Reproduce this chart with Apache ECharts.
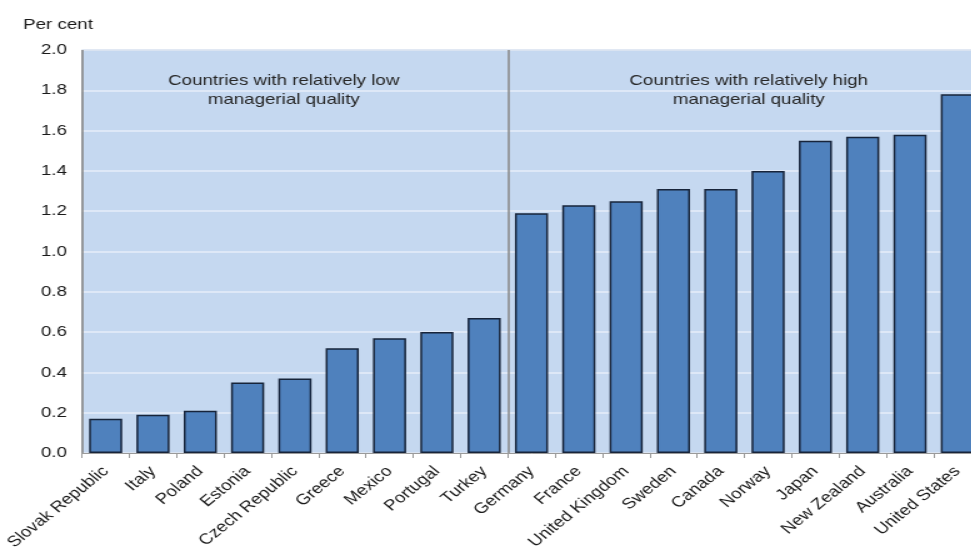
<!DOCTYPE html>
<html>
<head>
<meta charset="utf-8">
<script src="https://cdn.jsdelivr.net/npm/echarts@6/dist/echarts.min.js"></script>
<style>
  html, body { margin: 0; padding: 0; background: #ffffff; overflow: hidden; width: 971px; height: 554px; }
  /* the chart is drawn on a narrower canvas and widened horizontally */
  #chart { width: 800px; height: 554px; transform: scaleX(1.25); transform-origin: 0 0; }
</style>
</head>
<body>
<div id="chart"></div>
<script>
// Countries, ordered by value
const countries = [
  'Slovak Republic', 'Italy', 'Poland', 'Estonia', 'Czech Republic', 'Greece',
  'Mexico', 'Portugal', 'Turkey', 'Germany', 'France', 'United Kingdom',
  'Sweden', 'Canada', 'Norway', 'Japan', 'New Zealand', 'Australia', 'United States'
];
// Per cent
const values = [
  0.17, 0.19, 0.21, 0.35, 0.37, 0.52,
  0.57, 0.60, 0.67, 1.19, 1.23, 1.25,
  1.31, 1.31, 1.40, 1.55, 1.57, 1.58, 1.78
];
const yTicks = ['0.0', '0.2', '0.4', '0.6', '0.8', '1.0', '1.2', '1.4', '1.6', '1.8', '2.0'];
const groupLabels = [
  'Countries with relatively low\nmanagerial quality',
  'Countries with relatively high\nmanagerial quality'
];
// index of the first country in the high-quality group
const splitIndex = 9;

const font = '"Liberation Sans", Arial, sans-serif';
const chart = echarts.init(document.getElementById('chart'), null, { renderer: 'canvas' });

chart.setOption({
  animation: false,
  backgroundColor: '#ffffff',
  grid: {
    left: 65.6, top: 50, width: 719.2, height: 403,
    show: true,
    backgroundColor: '#c5d8f0',
    borderColor: '#a3adba',
    borderWidth: 1
  },
  graphic: [
    {
      type: 'text', x: 18.5, y: 17,
      style: { text: 'Per cent', font: '15px ' + font, fill: '#1a1a1a' }
    },
    {
      type: 'text', x: 227, y: 71,
      style: { text: groupLabels[0], font: '15px ' + font, fill: '#262626', align: 'center', lineHeight: 19 }
    },
    {
      type: 'text', x: 599, y: 71,
      style: { text: groupLabels[1], font: '15px ' + font, fill: '#262626', align: 'center', lineHeight: 19 }
    }
  ],
  xAxis: {
    type: 'category',
    data: countries,
    boundaryGap: true,
    axisLine: { show: true, lineStyle: { color: '#9a9a9a', width: 1 } },
    axisTick: { show: true, length: 5, lineStyle: { color: '#9a9a9a' } },
    axisLabel: {
      interval: 0, rotate: 45, margin: 16,
      fontFamily: font, fontSize: 15, color: '#1a1a1a'
    },
    splitLine: {
      show: true,
      // left edge plus the boundary between the two groups
      interval: function (index) { return index === 0 || index === splitIndex; },
      lineStyle: { color: '#8c8c8c', width: 1.6 }
    }
  },
  yAxis: {
    type: 'value',
    min: 0, max: 2, interval: 0.2,
    axisLine: { show: false },
    axisTick: { show: false },
    axisLabel: {
      margin: 12,
      fontFamily: font, fontSize: 15, color: '#1a1a1a',
      formatter: function (v) { return yTicks[Math.round(v / 0.2)]; }
    },
    splitLine: { show: true, lineStyle: { color: '#e6eefa', width: 1.5 } }
  },
  series: [{
    type: 'bar',
    data: values,
    barCategoryGap: '30%',
    itemStyle: { color: '#4f81bd', borderColor: '#17243a', borderWidth: 1.5 },
    silent: true
  }]
});
</script>
</body>
</html>
